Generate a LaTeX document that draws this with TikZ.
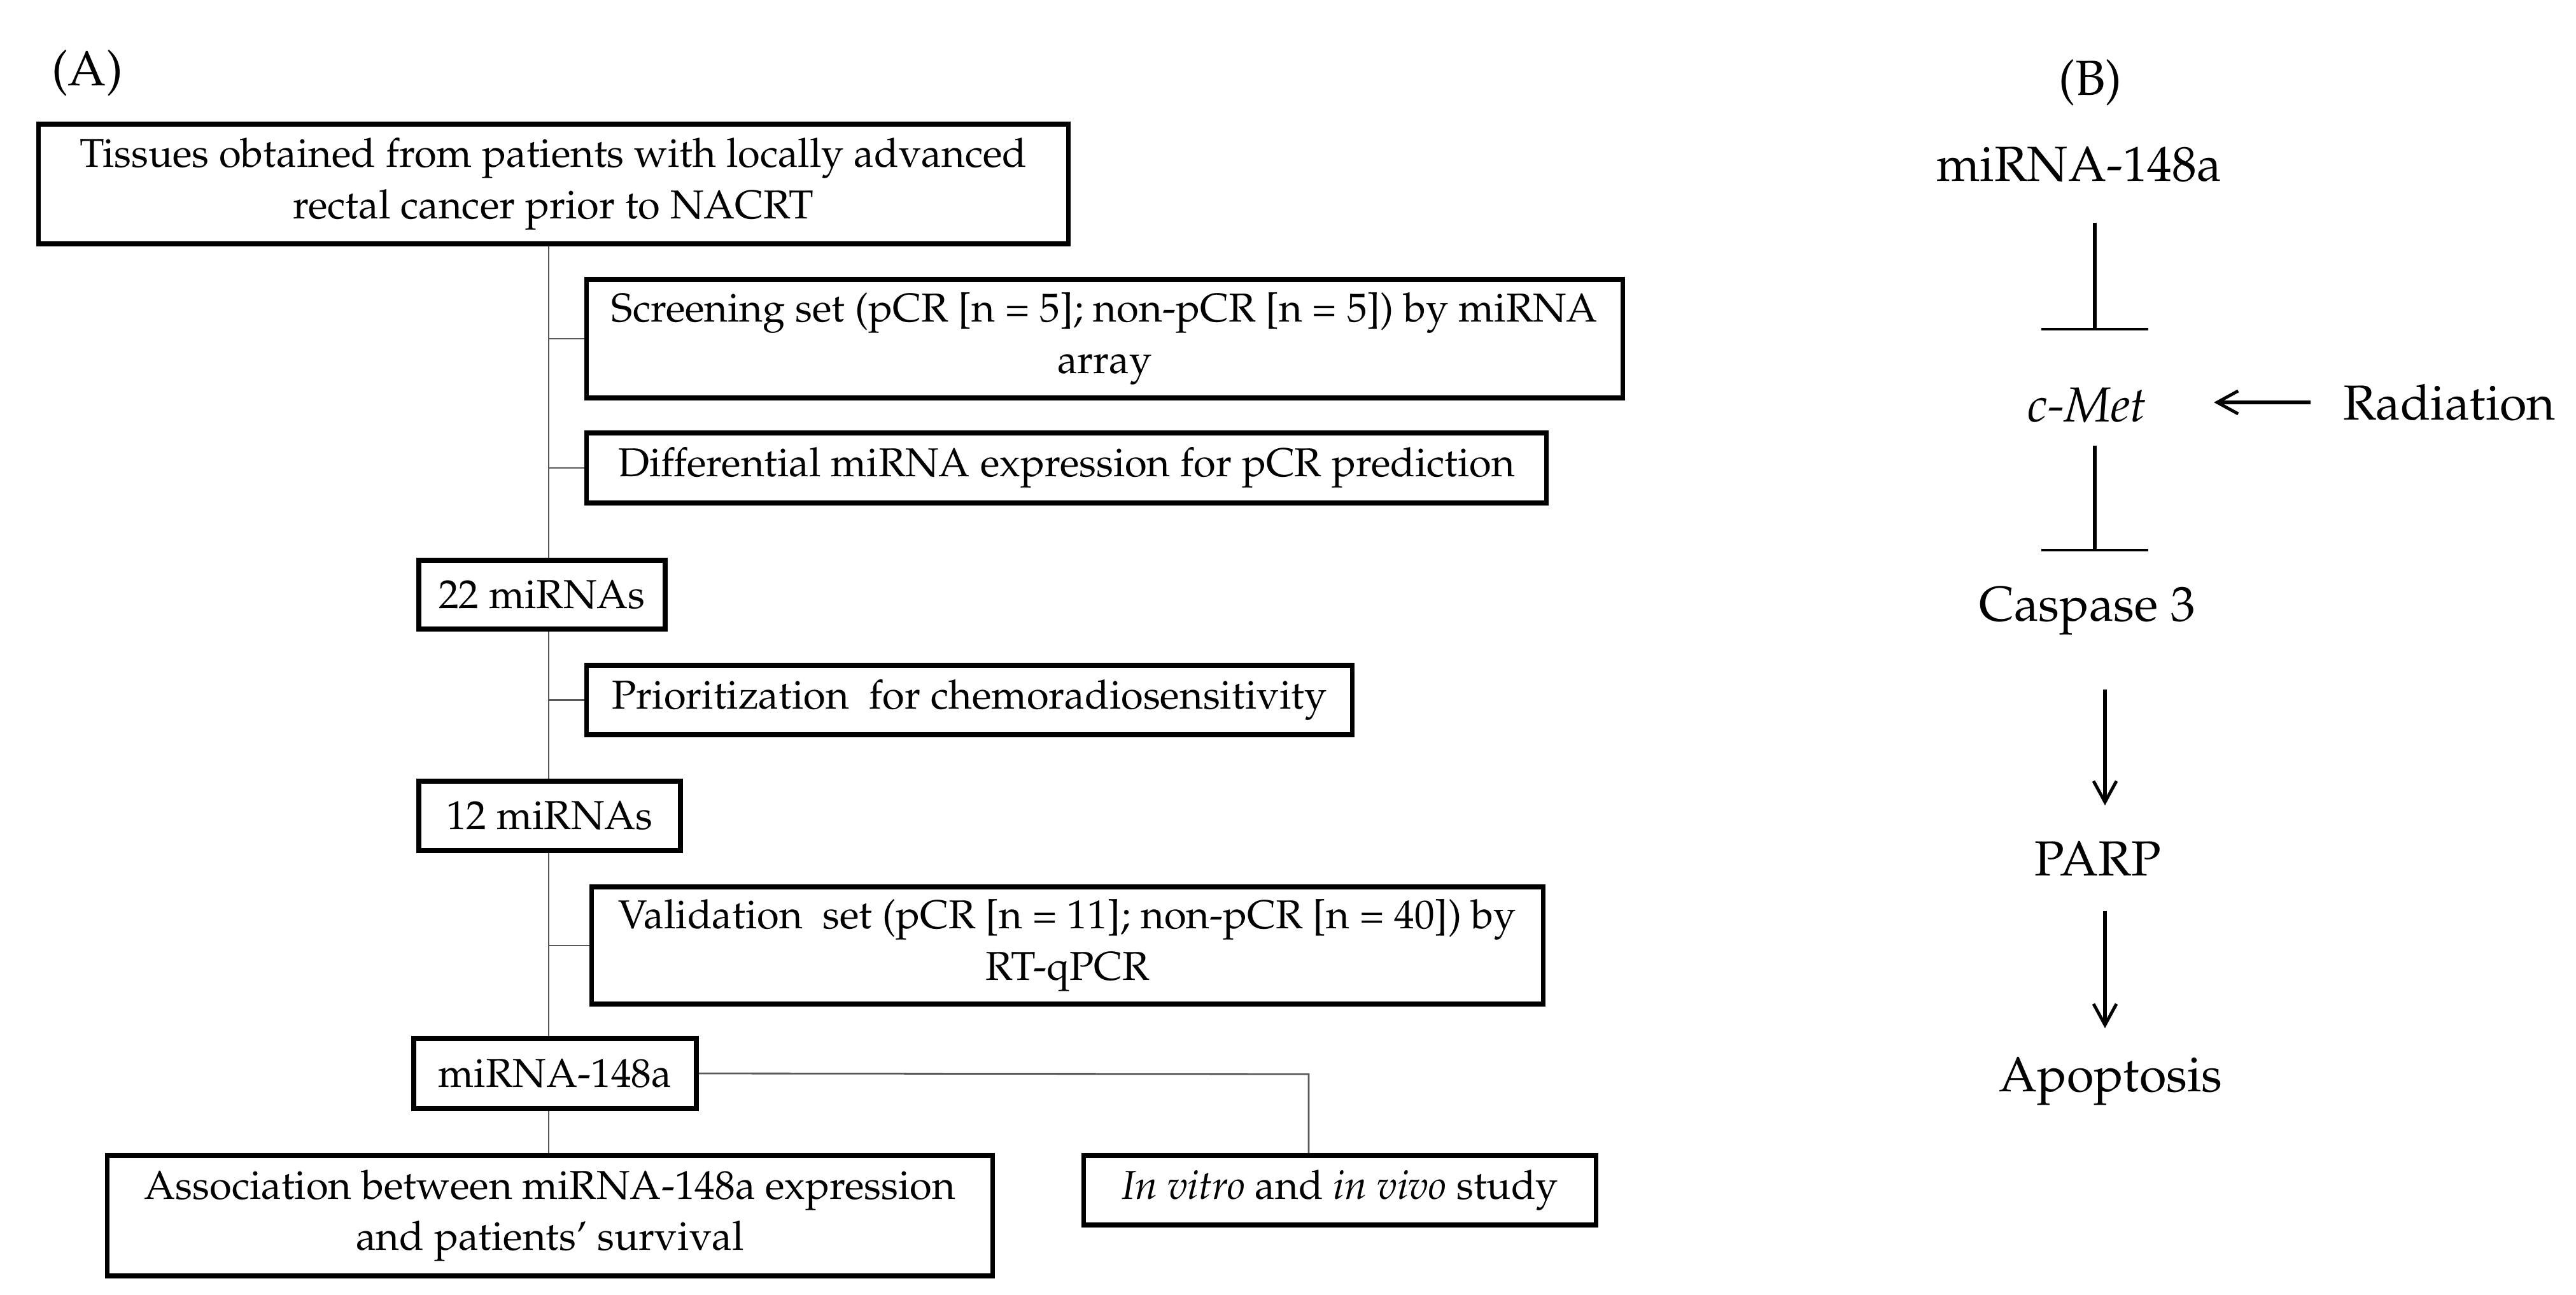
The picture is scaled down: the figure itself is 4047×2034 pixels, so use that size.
\documentclass[tikz,border=0pt]{standalone}
\usepackage[T1]{fontenc}
\usepackage{mathpazo}
\usetikzlibrary{arrows.meta}
\begin{document}
\begin{tikzpicture}[x=0.01cm, y=-0.01cm,
  abox/.style={draw, line width=2.1pt, align=center, inner sep=0pt, font=\fontsize{18}{22.8}\selectfont},
  conn/.style={draw=black!65, line width=0.8pt},
  btxt/.style={font=\fontsize{22}{26}\selectfont, inner sep=0pt},
  inh/.style={line width=1.5pt, -{Bar[width=1.67cm, line width=1.2pt]}},
  act/.style={line width=1.5pt, -{Straight Barb[length=3.3mm, width=3.6mm, line width=1.4pt]}}
]
\useasboundingbox (0,0) rectangle (4047,2034);
% ---------- Panel A ----------
\node[btxt] (lA) at (137,115) {(A)};
\node[abox, minimum width=16.17cm, minimum height=1.88cm] (t1) at (869.5,289)
  {Tissues obtained from patients with locally advanced\\rectal cancer prior to NACRT};
\node[abox, minimum width=16.27cm, minimum height=1.86cm] (s2) at (1735.5,532)
  {Screening set (pCR [n = 5]; non-pCR [n = 5]) by miRNA\\array};
\node[abox, minimum width=15.07cm, minimum height=1.10cm] (d3) at (1675.5,735)
  {Differential miRNA expression for pCR prediction};
\node[abox, minimum width=3.87cm, minimum height=1.08cm] (m22) at (851.5,934) {22 miRNAs};
\node[abox, minimum width=12.02cm, minimum height=1.09cm] (p4) at (1523,1099.5)
  {Prioritization~ for chemoradiosensitivity};
\node[abox, minimum width=4.11cm, minimum height=1.09cm] (m12) at (863.5,1281.5) {12 miRNAs};
\node[abox, minimum width=14.94cm, minimum height=1.84cm] (v5) at (1677,1485)
  {Validation~ set (pCR [n = 11]; non-pCR [n = 40]) by\\RT-qPCR};
\node[abox, minimum width=4.44cm, minimum height=1.10cm] (m148) at (872,1686) {miRNA-148a};
\node[abox, minimum width=13.90cm, minimum height=1.89cm] (as6) at (864,1909.5)
  {Association between miRNA-148a expression\\and patients' survival};
\node[abox, minimum width=8.04cm, minimum height=1.09cm] (iv7) at (2105,1869.5)
  {\textit{In vitro} and \textit{in vivo} study};
\coordinate (sp) at (862,0);
\coordinate (br) at (2056,1687);
\draw[conn] (t1.south -| sp) -- (m22.north -| sp);
\draw[conn] (m22.south -| sp) -- (m12.north -| sp);
\draw[conn] (m12.south -| sp) -- (m148.north -| sp);
\draw[conn] (m148.south -| sp) -- (as6.north -| sp);
\draw[conn] (s2.west -| sp) -- (s2.west);
\draw[conn] (d3.west -| sp) -- (d3.west);
\draw[conn] (p4.west -| sp) -- (p4.west);
\draw[conn] (v5.west -| sp) -- (v5.west);
\draw[conn] (m148.east) -- (br) -- (br |- iv7.north);
% ---------- Panel B ----------
\node[btxt] (lB) at (3284,130) {(B)};
\node[btxt] (bm) at (3266,259) {miRNA-148a};
\node[btxt] (cmet) at (3279,636) {\textit{c-Met}};
\node[btxt] (rad) at (3848,632) {Radiation};
\node[btxt] (casp) at (3279,960) {Caspase 3};
\node[btxt] (parp) at (3296,1349) {PARP};
\node[btxt] (apo) at (3316,1699) {Apoptosis};
\coordinate (ax) at (3291,0);
\coordinate (bx) at (3307,0);
\draw[inh, shorten <=0.91cm, shorten >=1.17cm] (ax |- bm) -- (ax |- cmet);
\draw[inh, shorten <=0.64cm, shorten >=0.94cm] (ax |- cmet) -- (ax |- casp);
\draw[act, shorten <=2.18cm, shorten >=1.99cm] (rad.center) -- (rad.center -| cmet);
\draw[act, shorten <=1.23cm, shorten >=0.84cm] (bx |- casp) -- (bx |- parp);
\draw[act, shorten <=0.82cm, shorten >=0.84cm] (bx |- parp) -- (bx |- apo);
\end{tikzpicture}
\end{document}
